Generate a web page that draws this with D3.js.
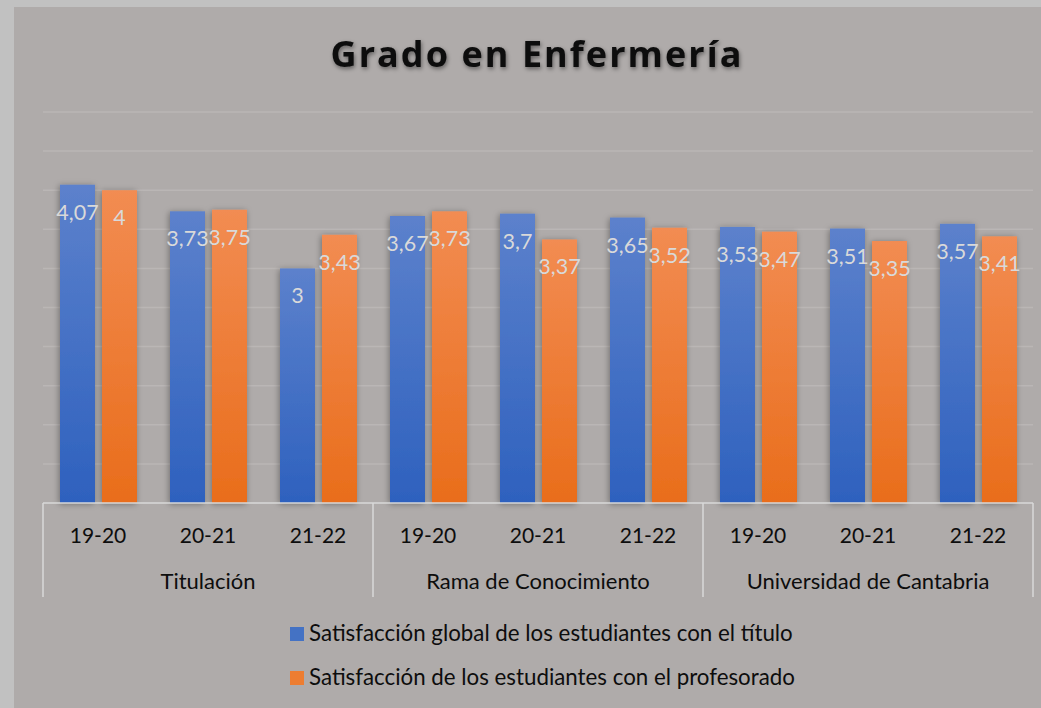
<!DOCTYPE html>
<html><head><meta charset="utf-8">
<script src="https://cdn.jsdelivr.net/npm/d3@7"></script>
<style>html,body{margin:0;padding:0;background:#c1c1c1;}svg{display:block;}</style>
</head><body>
<svg id="chart" width="1041" height="708"></svg>
<script>
const title = "Grado en Enfermería";
const groups = ["Titulación", "Rama de Conocimiento", "Universidad de Cantabria"];
const years = ["19-20", "20-21", "21-22"];
const seriesNames = ["Satisfacción global de los estudiantes con el título", "Satisfacción de los estudiantes con el profesorado"];
const globalValues = [4.07, 3.73, 3.00, 3.67, 3.70, 3.65, 3.53, 3.51, 3.57];
const profValues   = [4.00, 3.75, 3.43, 3.73, 3.37, 3.52, 3.47, 3.35, 3.41];
const yTicks = [0.5, 1, 1.5, 2, 2.5, 3, 3.5, 4, 4.5, 5];

const cats = [];
groups.forEach(g => years.forEach(y => cats.push(g + "|" + y)));
const data = cats.map((c, i) => ({cat: c, year: c.split("|")[1], vals: [globalValues[i], profValues[i]]}));

const svg = d3.select("#chart");
const W = 1041, H = 708;
svg.append("rect").attr("x", 14).attr("y", 7).attr("width", W - 14).attr("height", H - 7).attr("fill", "#afabaa");

const defs = svg.append("defs");
const grads = [["gBlue", "#5c81cc", "#2e61be"], ["gOrange", "#f28c52", "#e96d1b"]];
grads.forEach(([id, c1, c2]) => {
  const g = defs.append("linearGradient").attr("id", id).attr("x1", 0).attr("y1", 0).attr("x2", 0).attr("y2", 1);
  g.append("stop").attr("offset", "0%").attr("stop-color", c1);
  g.append("stop").attr("offset", "100%").attr("stop-color", c2);
});
const sh = defs.append("filter").attr("id", "barShadow").attr("x", "-40%").attr("y", "-10%").attr("width", "180%").attr("height", "120%");
sh.append("feDropShadow").attr("dx", -1).attr("dy", 1).attr("stdDeviation", 3).attr("flood-color", "#000").attr("flood-opacity", 0.35);
const tsh = defs.append("filter").attr("id", "titleShadow").attr("x", "-10%").attr("y", "-30%").attr("width", "120%").attr("height", "160%");
tsh.append("feDropShadow").attr("dx", 1).attr("dy", 2).attr("stdDeviation", 2).attr("flood-color", "#000").attr("flood-opacity", 0.45);

const x0 = d3.scaleBand().domain(cats).range([43, 1033]).padding(0);
const x1 = d3.scaleBand().domain([0, 1]).range([17, 94]).paddingInner(1 / 6).paddingOuter(0);
const y = d3.scaleLinear().domain([0, 5]).range([503, 112]);

// gridlines
svg.append("g").selectAll("line").data(yTicks).join("line")
  .attr("x1", 43).attr("x2", 1033).attr("y1", d => y(d)).attr("y2", d => y(d))
  .attr("stroke", "#bab6b5").attr("stroke-width", 1.5);

// bars
const fills = ["url(#gBlue)", "url(#gOrange)"];
const gBars = svg.append("g");
data.forEach(d => {
  d.vals.forEach((v, s) => {
    gBars.append("rect")
      .attr("x", x0(d.cat) + x1(s)).attr("width", x1.bandwidth())
      .attr("y", y(v)).attr("height", y(0) - y(v))
      .attr("fill", fills[s]).attr("filter", "url(#barShadow)");
  });
});

// data labels
const gLab = svg.append("g").attr("font-family", "Lato, sans-serif").attr("font-size", 21.5).attr("fill", "#d9d9d9").attr("text-anchor", "middle");
data.forEach(d => {
  d.vals.forEach((v, s) => {
    gLab.append("text")
      .attr("x", x0(d.cat) + x1(s) + x1.bandwidth() / 2)
      .attr("y", y(v) + 35)
      .text(String(v).replace(".", ","));
  });
});

// axis line and separators
svg.append("line").attr("x1", 43).attr("x2", 1033).attr("y1", y(0)).attr("y2", y(0)).attr("stroke", "#d9d9d9").attr("stroke-width", 1.5);
const seps = [0, 3, 6, 9].map(i => i < 9 ? x0(cats[i]) : x0(cats[8]) + x0.bandwidth());
svg.append("g").selectAll("line").data(seps).join("line")
  .attr("x1", d => d).attr("x2", d => d).attr("y1", y(0)).attr("y2", 597)
  .attr("stroke", "#d9d9d9").attr("stroke-width", 1.5);

// tick labels
const gAx = svg.append("g").attr("font-family", "Lato, sans-serif").attr("fill", "#0d0d0d").attr("text-anchor", "middle");
data.forEach(d => {
  gAx.append("text").attr("x", x0(d.cat) + x0.bandwidth() / 2).attr("y", 543).attr("font-size", 21).text(d.year);
});
groups.forEach((g, i) => {
  const a = x0(cats[i * 3]), b = x0(cats[i * 3 + 2]) + x0.bandwidth();
  gAx.append("text").attr("x", (a + b) / 2).attr("y", 589).attr("font-size", 22).text(g);
});

// title
const t = svg.append("text").attr("x", 536).attr("y", 67).attr("text-anchor", "middle")
  .attr("font-family", "'Open Sans', sans-serif").attr("font-weight", "bold").attr("font-size", 36)
  .attr("fill", "#0d0d0d").attr("filter", "url(#titleShadow)").text(title);
const natural = t.node().getComputedTextLength();
const ls = (411 - natural) / (title.length - 1);
t.attr("letter-spacing", ls).attr("x", 536 + ls / 2);

// legend
const legColors = ["#4472c4", "#ed7d31"];
const leg = svg.append("g");
seriesNames.forEach((n, i) => {
  const yy = 641 + i * 44;
  leg.append("rect").attr("x", 290).attr("y", yy - 14).attr("width", 14).attr("height", 14).attr("fill", legColors[i]);
  leg.append("text").attr("x", 309).attr("y", yy).attr("font-family", "Lato, sans-serif").attr("font-size", 22.3).attr("fill", "#0d0d0d").text(n);
});
</script>
</body></html>
